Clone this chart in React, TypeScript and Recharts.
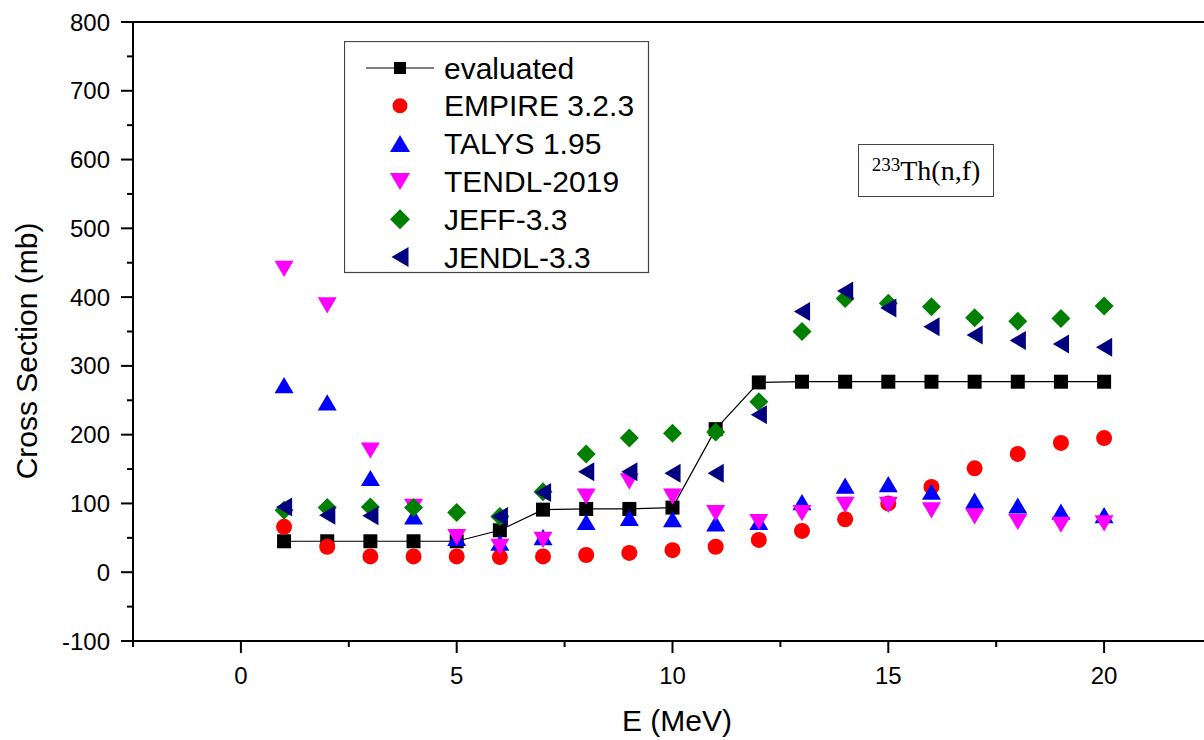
import React from 'react';
import { ScatterChart, Scatter, XAxis, YAxis, ReferenceLine, Legend } from 'recharts';

const energies = [1, 2, 3, 4, 5, 6, 7, 8, 9, 10, 11, 12, 13, 14, 15, 16, 17, 18, 19, 20];
const evaluated = [45, 45, 45, 45, 45, 61, 91, 92, 92, 94, 208, 276, 277, 277, 277, 277, 277, 277, 277, 277];
const empire = [66, 37, 23, 23, 23, 22, 23, 25, 28, 32, 37, 47, 60, 77, 100, 124, 151, 172, 188, 195];
const talys = [272, 247, 137, 81, 50, 43, 51, 73, 79, 77, 71, 73, 102, 126, 128, 117, 104, 97, 88, 83];
const tendl = [441, 388, 177, 95, 51, 37, 47, 110, 132, 110, 86, 73, 86, 98, 98, 90, 81, 73, 69, 71];
const jeff = [90, 94, 95, 94, 87, 81, 117, 172, 195, 202, 204, 248, 350, 398, 391, 386, 370, 365, 369, 387];
const jendl = [95, 83, 82, null, null, 81, 116, 146, 146, 144, 144, 229, 379, 409, 384, 357, 345, 337, 332, 327];

const xTicks = [-2.5, 0, 2.5, 5, 7.5, 10, 12.5, 15, 17.5, 20, 22.5];
const yTicks = [-100, -50, 0, 50, 100, 150, 200, 250, 300, 350, 400, 450, 500, 550, 600, 650, 700, 750, 800];

const toPoints = (ys: (number | null)[]) =>
  energies.map((x, i) => ({ x, y: ys[i] })).filter(p => p.y !== null);

const FONT = '"Liberation Sans", Arial, sans-serif';

const Square = ({ cx, cy, s = 14 }: any) => <rect x={cx - s / 2} y={cy - s / 2} width={s} height={s} fill="#000" />;
const Circle = ({ cx, cy, s = 16 }: any) => <circle cx={cx} cy={cy} r={s / 2} fill="#FF0000" />;
const UpTri = ({ cx, cy, s = 19 }: any) => {
  const h = s * 0.85;
  return <polygon points={`${cx - s / 2},${cy + h / 2} ${cx + s / 2},${cy + h / 2} ${cx},${cy - h / 2}`} fill="#0000FF" />;
};
const DownTri = ({ cx, cy, s = 19 }: any) => {
  const h = s * 0.85;
  return <polygon points={`${cx - s / 2},${cy - h / 2} ${cx + s / 2},${cy - h / 2} ${cx},${cy + h / 2}`} fill="#FF00FF" />;
};
const Diamond = ({ cx, cy, s = 19 }: any) => (
  <polygon points={`${cx},${cy - s / 2} ${cx + s / 2},${cy} ${cx},${cy + s / 2} ${cx - s / 2},${cy}`} fill="#008000" />
);
const LeftTri = ({ cx, cy, s = 19 }: any) => {
  const w = s * 0.85;
  return <polygon points={`${cx + w / 2},${cy - s / 2} ${cx + w / 2},${cy + s / 2} ${cx - w / 2},${cy}`} fill="#000080" />;
};

const legendRows = [
  { name: 'evaluated', Icon: Square, size: 12, line: true },
  { name: 'EMPIRE 3.2.3', Icon: Circle, size: 15, line: false },
  { name: 'TALYS 1.95', Icon: UpTri, size: 20, line: false },
  { name: 'TENDL-2019', Icon: DownTri, size: 20, line: false },
  { name: 'JEFF-3.3', Icon: Diamond, size: 20, line: false },
  { name: 'JENDL-3.3', Icon: LeftTri, size: 20, line: false },
];

const LegendBox = () => (
  <svg width={306} height={233}>
    <rect x={0.5} y={0.5} width={304} height={231} fill="#fff" stroke="#444" strokeWidth={1.2} />
    {legendRows.map((r, i) => {
      const cy = 27 + i * 37.8;
      return (
        <g key={r.name}>
          {r.line && <line x1={22} x2={90} y1={cy} y2={cy} stroke="#000" strokeWidth={1.2} />}
          <r.Icon cx={56} cy={cy} s={r.size} />
          <text x={100} y={cy + 10.5} fontSize={30} fontFamily={FONT} fill="#000">{r.name}</text>
        </g>
      );
    })}
  </svg>
);

const YTick = ({ x, y, payload }: any) => {
  const major = payload.value % 100 === 0;
  return (
    <g>
      <line x1={x - (major ? 12 : 6)} x2={x} y1={y} y2={y} stroke="#000" strokeWidth={2} />
      {major && (
        <text x={x - 23} y={y + 8.5} textAnchor="end" fontSize={24} fontFamily={FONT} fill="#000">{payload.value}</text>
      )}
    </g>
  );
};

const XTick = ({ x, y, payload }: any) => {
  const major = payload.value % 5 === 0;
  return (
    <g>
      <line x1={x} x2={x} y1={y} y2={y + (major ? 12 : 6)} stroke="#000" strokeWidth={2} />
      {major && (
        <text x={x} y={y + 43} textAnchor="middle" fontSize={24} fontFamily={FONT} fill="#000">{payload.value}</text>
      )}
    </g>
  );
};

const App = () => {
  return (
    <div style={{ position: 'absolute', left: 0, top: 0, width: 1204, height: 740, overflow: 'hidden', background: '#fff' }}>
      <ScatterChart width={1230} height={740} margin={{ top: 22, right: 18, bottom: 0, left: 0 }}>
        <XAxis
          type="number"
          dataKey="x"
          domain={[-2.5, 22.5]}
          ticks={xTicks}
          height={99}
          tickSize={0}
          tickMargin={0}
          tick={<XTick />}
          axisLine={{ stroke: '#000', strokeWidth: 2 }}
          allowDataOverflow
          label={{
            content: () => (
              <text x={677} y={731} textAnchor="middle" fontSize={30} fontFamily={FONT} fill="#000">E (MeV)</text>
            ),
          }}
        />
        <YAxis
          type="number"
          dataKey="y"
          domain={[-100, 800]}
          ticks={yTicks}
          width={133}
          tickSize={0}
          tickMargin={0}
          tick={<YTick />}
          axisLine={{ stroke: '#000', strokeWidth: 2 }}
          allowDataOverflow
          label={{
            content: () => (
              <text x={37} y={351} transform="rotate(-90 37 351)" textAnchor="middle" fontSize={30} fontFamily={FONT} fill="#000">
                Cross Section (mb)
              </text>
            ),
          }}
        />
        <ReferenceLine y={800} stroke="#000" strokeWidth={2} />
        <Legend
          layout="vertical"
          align="center"
          verticalAlign="middle"
          content={() => <LegendBox />}
          wrapperStyle={{ left: 344, top: 41, width: 306, height: 233 }}
        />
        <Scatter
          name="evaluated"
          data={toPoints(evaluated)}
          line={{ stroke: '#000', strokeWidth: 1.2 }}
          shape={(p: any) => <Square cx={p.cx} cy={p.cy} />}
          isAnimationActive={false}
        />
        <Scatter name="EMPIRE 3.2.3" data={toPoints(empire)} shape={(p: any) => <Circle cx={p.cx} cy={p.cy} />} isAnimationActive={false} />
        <Scatter name="TALYS 1.95" data={toPoints(talys)} shape={(p: any) => <UpTri cx={p.cx} cy={p.cy} />} isAnimationActive={false} />
        <Scatter name="TENDL-2019" data={toPoints(tendl)} shape={(p: any) => <DownTri cx={p.cx} cy={p.cy} />} isAnimationActive={false} />
        <Scatter name="JEFF-3.3" data={toPoints(jeff)} shape={(p: any) => <Diamond cx={p.cx} cy={p.cy} />} isAnimationActive={false} />
        <Scatter name="JENDL-3.3" data={toPoints(jendl)} shape={(p: any) => <LeftTri cx={p.cx} cy={p.cy} />} isAnimationActive={false} />
      </ScatterChart>
      <div
        style={{
          position: 'absolute',
          left: 858,
          top: 144,
          width: 136,
          height: 53,
          boxSizing: 'border-box',
          border: '1.2px solid #444',
          background: '#fff',
          fontFamily: '"Liberation Serif", "Times New Roman", serif',
          fontSize: 28,
          lineHeight: '52px',
          textAlign: 'center',
          color: '#000',
          whiteSpace: 'nowrap',
        }}
      >
        <sup style={{ fontSize: 19, verticalAlign: 'top', lineHeight: '40px' }}>233</sup>Th(n,f)
      </div>
    </div>
  );
};

export default App;
